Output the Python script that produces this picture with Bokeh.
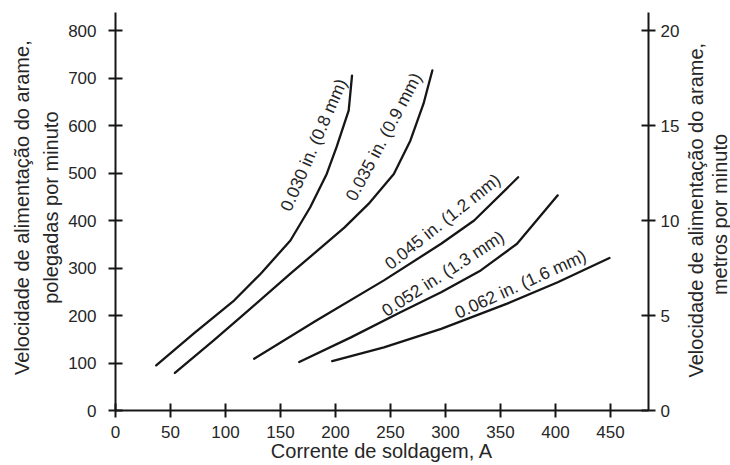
from bokeh.plotting import figure
from bokeh.models import Range1d, LinearAxis, FixedTicker, Label
from bokeh.layouts import row
from bokeh.embed import file_html
from bokeh.resources import INLINE
import math

# ---- data ----
current_030 = [37, 71, 108, 132, 159, 177, 192, 201, 212, 215]
speed_030 = [95, 162, 232, 288, 358, 428, 498, 555, 632, 705]
current_035 = [54, 89, 114, 159, 208, 230, 253, 268, 280, 288]
speed_035 = [79, 147, 197, 288, 385, 435, 498, 568, 646, 716]
current_045 = [126, 183, 244, 296, 326, 366]
speed_045 = [109, 190, 274, 351, 400, 491]
current_052 = [167, 214, 259, 296, 332, 365, 402]
speed_052 = [102, 154, 207, 249, 295, 351, 453]
current_062 = [197, 244, 296, 356, 402, 449]
speed_062 = [104, 133, 172, 225, 270, 321]

curve_labels = ["0.030 in. (0.8 mm)", "0.035 in. (0.9 mm)", "0.045 in. (1.2 mm)",
                "0.052 in. (1.3 mm)", "0.062 in. (1.6 mm)"]
x_ticks = [0, 50, 100, 150, 200, 250, 300, 350, 400, 450]
y_ticks = [0, 100, 200, 300, 400, 500, 600, 700, 800]
y2_ticks = [0, 5, 10, 15, 20]

x_title = "Corrente de soldagem, A"
y_title = ["Velocidade de alimentação do arame,", "polegadas por minuto"]
y2_title = ["Velocidade de alimentação do arame,", "metros por minuto"]

# ---- placement / style ----
FONT = "Liberation Sans"
TXT = "#262626"
LINE = "#161616"
X_MAX = 484.5
Y_MAX = 838.0
LEFT_W, MAIN_W, RIGHT_W = 65, 620, 45
H = 465


def blank(w, h):
    f = figure(width=w, height=h, output_backend="svg", toolbar_location=None,
               x_range=Range1d(0, w), y_range=Range1d(0, h),
               min_border=0, x_axis_location=None, y_axis_location=None)
    f.outline_line_color = None
    f.xgrid.visible = False
    f.ygrid.visible = False
    f.border_fill_color = "white"
    f.background_fill_color = "white"
    return f


p = figure(width=MAIN_W, height=H, output_backend="svg", toolbar_location=None,
           x_range=Range1d(0, X_MAX), y_range=Range1d(0, Y_MAX),
           min_border_left=50, min_border_right=37, min_border_top=12,
           min_border_bottom=55, x_axis_location=None, y_axis_location=None)
p.outline_line_color = None
p.xgrid.visible = False
p.ygrid.visible = False
p.background_fill_color = "white"
p.border_fill_color = "white"
p.extra_y_ranges = {"m": Range1d(0, Y_MAX / 40.0)}


def style_axis(ax, ticks, standoff):
    ax.ticker = FixedTicker(ticks=ticks)
    ax.axis_line_color = LINE
    ax.axis_line_width = 2
    ax.major_tick_line_color = LINE
    ax.major_tick_line_width = 2
    ax.major_tick_in = 7
    ax.major_tick_out = 7
    ax.minor_tick_line_color = None
    ax.major_label_text_font = FONT
    ax.major_label_text_font_size = "17px"
    ax.major_label_text_color = TXT
    ax.major_label_standoff = standoff


xa = LinearAxis(axis_label=x_title)
style_axis(xa, x_ticks, 8)
xa.axis_label_text_font = FONT
xa.axis_label_text_font_size = "20px"
xa.axis_label_text_font_style = "normal"
xa.axis_label_text_color = TXT
xa.axis_label_standoff = -1
p.add_layout(xa, "below")
ya = LinearAxis()
style_axis(ya, y_ticks, 12)
p.add_layout(ya, "left")
ya2 = LinearAxis(y_range_name="m")
style_axis(ya2, y2_ticks, 5)
p.add_layout(ya2, "right")

series = [(current_030, speed_030), (current_035, speed_035), (current_045, speed_045),
          (current_052, speed_052), (current_062, speed_062)]
for cx, cy in series:
    p.line(cx, cy, line_color=LINE, line_width=2.3, line_join="round", line_cap="round")

# curve label anchors (baseline start, data units) and angles in degrees
label_pos = [(154.4, 422.1, 66.6), (213.4, 444.5, 62.0), (246.8, 304.7, 38.5),
             (243.5, 206.8, 33.0), (309.4, 204.0, 24.5)]
for txt, (lx, ly, ang) in zip(curve_labels, label_pos):
    p.add_layout(Label(x=lx, y=ly, text=txt, angle=math.radians(ang),
                       text_font=FONT, text_font_size="17.5px", text_color=TXT,
                       text_align="left", text_baseline="alphabetic"))

# left title strip
left = blank(LEFT_W, H)
for txt, lx in zip(y_title, [21, 50]):
    left.add_layout(Label(x=lx, y=H - 228, text=txt, angle=math.pi / 2,
                          text_font=FONT, text_font_size="20px", text_color=TXT,
                          text_align="center", text_baseline="middle"))

# right title strip
right = blank(RIGHT_W, H)
for txt, lx, sy in zip(y2_title, [10, 34], [231, 236]):
    right.add_layout(Label(x=lx, y=H - sy, text=txt, angle=math.pi / 2,
                           text_font=FONT, text_font_size="20px", text_color=TXT,
                           text_align="center", text_baseline="middle"))

page = row(left, p, right, spacing=0)
open("out.html", "w").write(file_html(page, INLINE))
